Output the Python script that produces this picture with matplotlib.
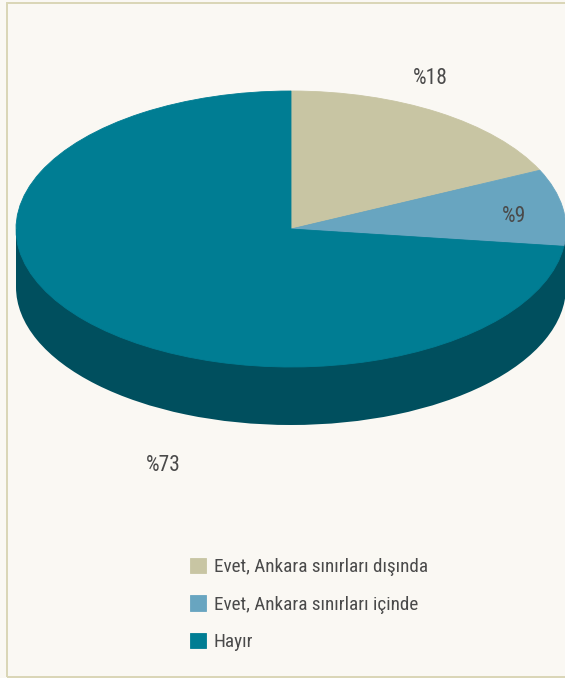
import logging
import matplotlib
matplotlib.use("Agg")
import matplotlib.pyplot as plt
from matplotlib.patches import Rectangle
from matplotlib import font_manager

logging.getLogger("matplotlib.font_manager").setLevel(logging.ERROR)

categories = ["Evet, Ankara sınırları dışında", "Evet, Ankara sınırları içinde", "Hayır"]
values = [18, 9, 73]
value_labels = ["%18", "%9", "%73"]
colors = ["#C8C5A3", "#68A5C0", "#007D93"]
side_color = "#004F5E"
bg = "#FAF8F3"
text_color = "#4A4A4A"

W, H = 565, 678
cx, cy, rx, ry, depth = 291.0, 229.0, 275.0, 138.0, 58.0

available = {f.name for f in font_manager.fontManager.ttflist}
for name in ["Roboto Condensed", "Open Sans Condensed", "Lato", "Roboto"]:
    if name in available:
        plt.rcParams["font.family"] = [name, "DejaVu Sans"]
        break

fig = plt.figure(figsize=(W / 100, H / 100), dpi=100, facecolor=bg)
ax = fig.add_axes([0, 0, 1, 1])

# side of the disc
ax.pie([sum(values)], colors=[side_color], startangle=90, center=(0, -depth / ry), radius=1,
       wedgeprops={"linewidth": 0})
ax.add_patch(Rectangle((-1, -depth / ry), 2, depth / ry, fc=side_color, ec="none", zorder=0.5))
# top of the disc
wedges, _ = ax.pie(values, colors=colors, startangle=90, counterclock=False,
                   center=(0, 0), radius=1, wedgeprops={"zorder": 2, "linewidth": 0})
for w, c in zip(wedges, colors):
    w.set_edgecolor(c)
    w.set_linewidth(0.6)

ax.set_aspect("auto")
ax.set_xlim(-cx / rx, (W - cx) / rx)
ax.set_ylim((cy - H) / ry, cy / ry)
ax.set_axis_off()

# value labels, placed in pixels
label_px = [(430, 78), (514, 216), (163, 465)]
for s, (px, py) in zip(value_labels, label_px):
    ax.text((px - cx) / rx, (cy - py) / ry, s, ha="center", va="center",
            fontsize=15.5, color=text_color, zorder=5)

# frame
frame = "#DAD6B6"
fig.add_artist(Rectangle((7 / W, 1.5 / H), (W + 10) / W, (H - 4) / H, transform=fig.transFigure,
                         fc="none", ec=frame, lw=1.4, zorder=0))

leg = ax.legend(wedges, categories, loc="upper left", bbox_to_anchor=(186.5 / W, 1 - 554 / H),
                bbox_transform=fig.transFigure, frameon=False, fontsize=13.8,
                labelcolor=text_color, handlelength=0.8, handleheight=0.85,
                handletextpad=0.43, labelspacing=1.0, borderpad=0.2, borderaxespad=0)
leg.set_zorder(6)

fig.savefig("out.png", dpi=100, facecolor=bg)
